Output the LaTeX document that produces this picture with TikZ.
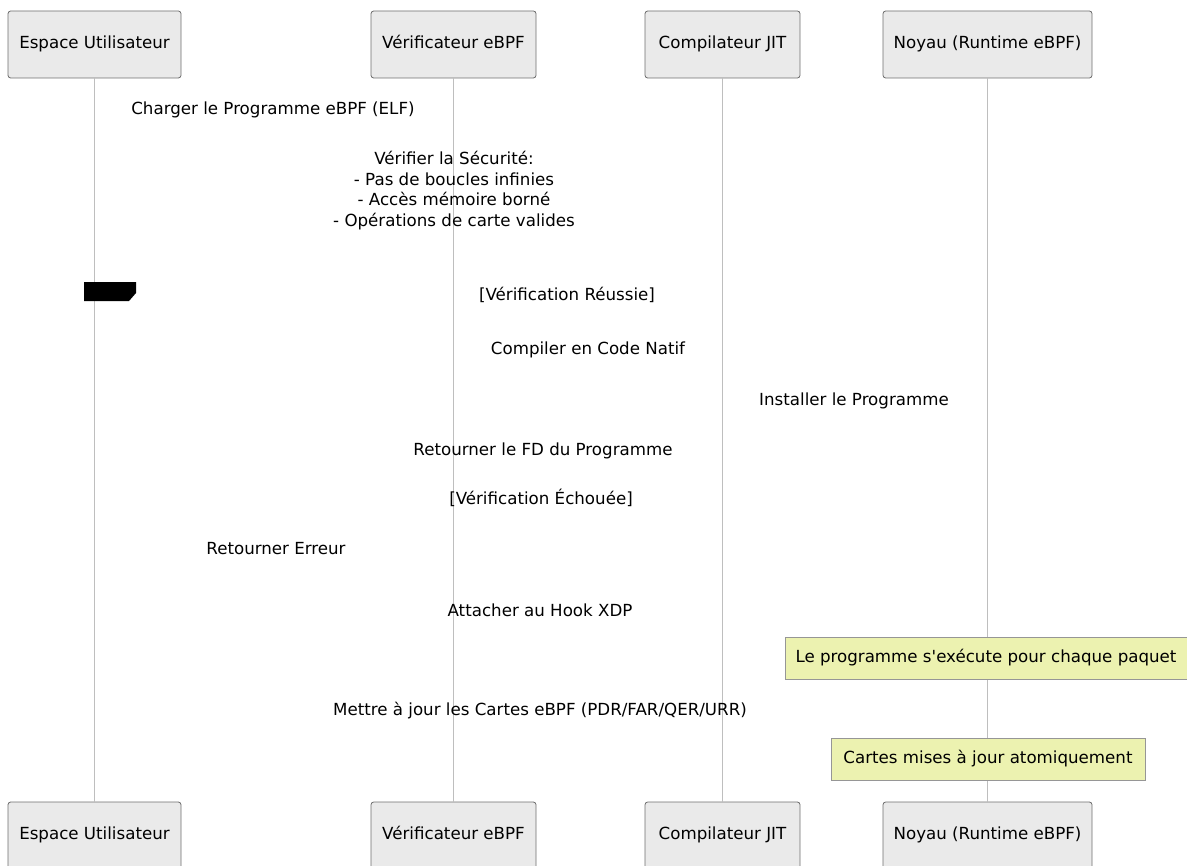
\documentclass[tikz,border=0pt]{standalone}
\usepackage{fontspec}
\setmainfont{DejaVu Sans}[Ligatures=TeXOff]
\usetikzlibrary{positioning}

\definecolor{actorfill}{RGB}{234,234,234}
\definecolor{actorline}{RGB}{110,110,110}
\definecolor{notefill}{RGB}{236,242,176}
\definecolor{noteline}{RGB}{150,150,150}
\definecolor{lifecol}{RGB}{190,190,190}

\tikzset{
    actor/.style={rectangle, draw=actorline, fill=actorfill, rounded corners=2pt,
        minimum height=50.25pt, inner sep=0pt, line width=0.6pt,
        text height=9.2pt, text depth=2.6pt},
    msg/.style={inner sep=0pt, align=center},
    note/.style={rectangle, draw=noteline, fill=notefill, minimum height=31.5pt,
        inner sep=0pt, line width=0.6pt, text height=9.2pt, text depth=2.6pt},
    life/.style={draw=lifecol, line width=0.75pt}
}

\begin{document}
\begin{tikzpicture}[x=0.75pt, y=-0.75pt, font=\fontsize{12.5}{15.5}\selectfont]
        \useasboundingbox (0,0) rectangle (1187,866);

        % participants
        \node (user) [actor, minimum width=129.75pt] at (94.5,44.5) {Espace Utilisateur};
        \node (verif) [actor, minimum width=123.75pt] at (453.5,44.5) {Vérificateur eBPF};
        \node (jit) [actor, minimum width=116.25pt] at (722.5,44.5) {Compilateur JIT};
        \node (kernel) [actor, minimum width=156.75pt] at (987.5,44.5) {Noyau (Runtime eBPF)};

        \node (userB) [actor, minimum width=129.75pt] at (94.5,835.5) {Espace Utilisateur};
        \node (verifB) [actor, minimum width=123.75pt] at (453.5,835.5) {Vérificateur eBPF};
        \node (jitB) [actor, minimum width=116.25pt] at (722.5,835.5) {Compilateur JIT};
        \node (kernelB) [actor, minimum width=156.75pt] at (987.5,835.5) {Noyau (Runtime eBPF)};

        % lifelines
        \draw[life] (user) -- (userB);
        \draw[life] (verif) -- (verifB);
        \draw[life] (jit) -- (jitB);
        \draw[life] (kernel) -- (kernelB);

        % messages
        \node (load) [msg] at (273,110) {Charger le Programme eBPF (ELF)};
        \node (check) [msg] at (454,190.5) {Vérifier la Sécurité:\\- Pas de boucles infinies\\- Accès mémoire borné\\- Opérations de carte valides};
        \fill (84,282) -- (136,282) -- (136,293) -- (129,301) -- (84,301) -- cycle;
        \node (ok) [msg] at (567,295) {[Vérification Réussie]};
        \node (compile) [msg] at (588,350) {Compiler en Code Natif};
        \node (install) [msg] at (854,401) {Installer le Programme};
        \node (fd) [msg] at (543,451) {Retourner le FD du Programme};
        \node (fail) [msg] at (541,498) {[Vérification Échouée]};
        \node (err) [msg] at (276,549) {Retourner Erreur};
        \node (attach) [msg] at (540,610) {Attacher au Hook XDP};
        \node (maps) [msg] at (540,711) {Mettre à jour les Cartes eBPF (PDR/FAR/QER/URR)};

        % notes
        \node (perpkt) [note, minimum width=301.5pt] at (986,658) {Le programme s'exécute pour chaque paquet};
        \node (atomic) [note, minimum width=235.5pt] at (988,759.5) {Cartes mises à jour atomiquement};
    \end{tikzpicture}
\end{document}
